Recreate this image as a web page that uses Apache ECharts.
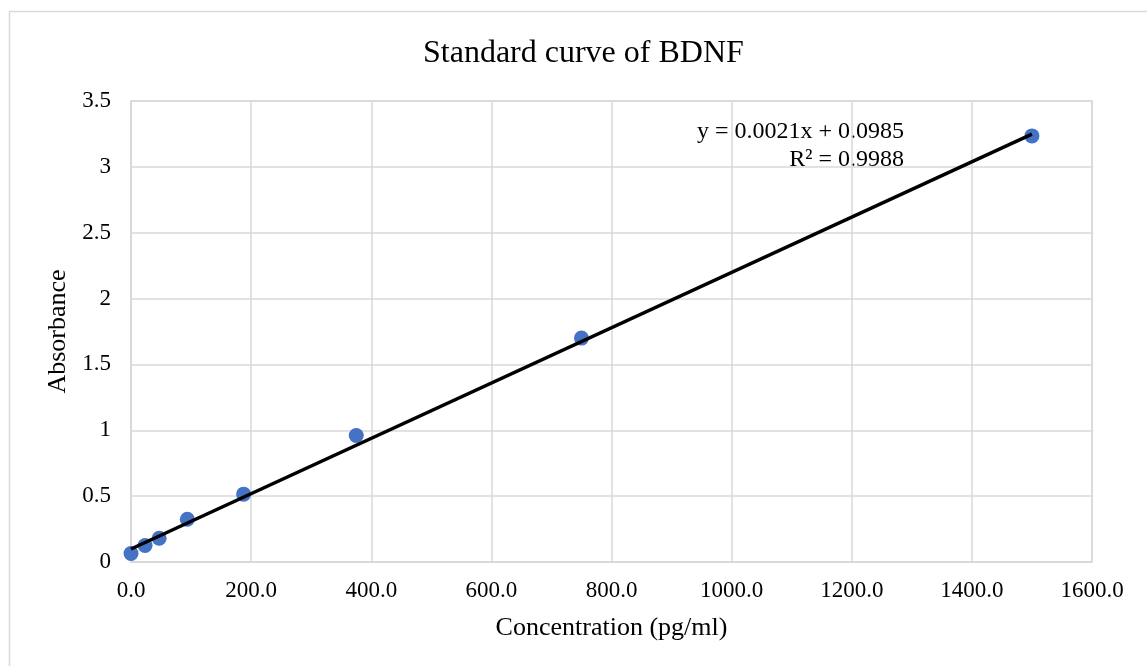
<!DOCTYPE html>
<html>
<head>
<meta charset="utf-8">
<script src="https://cdn.jsdelivr.net/npm/echarts@6/dist/echarts.min.js"></script>
<style>
  html, body { margin: 0; padding: 0; background: #fff; }
  #chart { width: 1147px; height: 666px; }
</style>
</head>
<body>
<div id="chart"></div>
<script>
// standard concentrations (pg/ml) and measured absorbance
const concentration = [0, 23.4, 46.9, 93.75, 187.5, 375, 750, 1500];
const absorbance = [0.065, 0.125, 0.18, 0.325, 0.515, 0.96, 1.70, 3.235];
// linear trendline endpoints
const trendX = [0, 1500];
const trendY = [0.0985, 3.2485];
const equationText = 'y = 0.0021x + 0.0985';
const r2Text = 'R² = 0.9988';

const font = 'Liberation Serif';
const chart = echarts.init(document.getElementById('chart'));

chart.setOption({
  animation: false,
  textStyle: { fontFamily: font },
  title: {
    text: 'Standard curve of BDNF',
    left: 418,
    top: 33,
    textStyle: { fontFamily: font, fontSize: 32, fontWeight: 'normal', color: '#000' }
  },
  grid: { left: 131, right: 55, top: 101, bottom: 104 },
  xAxis: {
    type: 'value',
    min: 0,
    max: 1600,
    interval: 200,
    name: 'Concentration (pg/ml)',
    nameLocation: 'middle',
    nameGap: 53,
    nameTextStyle: { fontFamily: font, fontSize: 26, color: '#000' },
    axisLine: { show: true, lineStyle: { color: '#d9d9d9', width: 1.5 } },
    axisTick: { show: false },
    axisLabel: {
      color: '#000', fontFamily: font, fontSize: 23, margin: 17,
      formatter: v => v.toFixed(1)
    },
    splitLine: { show: true, lineStyle: { color: '#d9d9d9', width: 1.5 } }
  },
  yAxis: {
    type: 'value',
    min: 0,
    max: 3.5,
    interval: 0.5,
    name: 'Absorbance',
    nameLocation: 'middle',
    nameGap: 57,
    nameTextStyle: { fontFamily: font, fontSize: 26, color: '#000' },
    axisLine: { show: true, lineStyle: { color: '#d9d9d9', width: 1.5 } },
    axisTick: { show: false },
    axisLabel: { color: '#000', fontFamily: font, fontSize: 23, margin: 20 },
    splitLine: { show: true, lineStyle: { color: '#d9d9d9', width: 1.5 } }
  },
  graphic: [
    {
      type: 'rect',
      silent: true,
      shape: { x: 9.5, y: 11.5, width: 1200, height: 700 },
      style: { fill: 'none', stroke: '#d9d9d9', lineWidth: 1.5 }
    },
    {
      type: 'rect',
      silent: true,
      shape: { x: 131, y: 101, width: 961, height: 461 },
      style: { fill: 'none', stroke: '#d9d9d9', lineWidth: 1.5 }
    },
    {
      type: 'text',
      right: 243,
      top: 120,
      style: { text: equationText, font: '24px ' + font, fill: '#000', textAlign: 'right' }
    },
    {
      type: 'text',
      right: 243,
      top: 148,
      style: { text: r2Text, font: '24px ' + font, fill: '#000', textAlign: 'right' }
    }
  ],
  series: [
    {
      type: 'scatter',
      symbolSize: 15,
      itemStyle: { color: '#4472c4', opacity: 1 },
      data: concentration.map((c, i) => [c, absorbance[i]]),
      z: 3
    },
    {
      type: 'line',
      symbol: 'none',
      lineStyle: { color: '#000', width: 3.5 },
      data: trendX.map((x, i) => [x, trendY[i]]),
      z: 4
    }
  ]
});
</script>
</body>
</html>
